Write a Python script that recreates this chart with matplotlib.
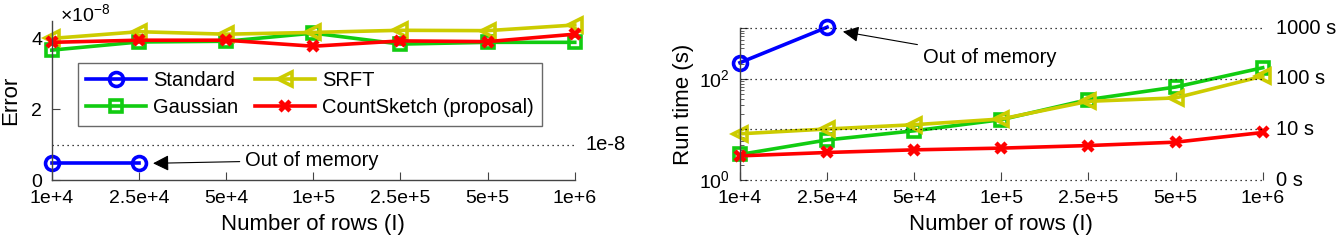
import matplotlib
matplotlib.use("Agg")
import matplotlib.pyplot as plt
import numpy as np

plt.rcParams['font.family'] = ['Liberation Sans', 'DejaVu Sans']
plt.rcParams['mathtext.fontset'] = 'custom'
plt.rcParams['mathtext.rm'] = 'Liberation Sans'

rows = ['1e+4', '2.5e+4', '5e+4', '1e+5', '2.5e+5', '5e+5', '1e+6']

# error values (x 1e-8)
err_standard = [0.47, 0.47]
err_gaussian = [3.67, 3.9, 3.92, 4.15, 3.84, 3.89, 3.89]
err_srft = [4.0, 4.19, 4.12, 4.17, 4.23, 4.22, 4.38]
err_cs = [3.89, 3.95, 3.95, 3.78, 3.93, 3.91, 4.12]

# run time (s)
time_standard = [209, 1050]
time_gaussian = [3.2, 6.2, 9.4, 15.6, 39, 69, 166]
time_srft = [8.2, 10.2, 12.4, 16.1, 36, 42, 113]
time_cs = [3.0, 3.5, 3.95, 4.27, 4.8, 5.6, 8.7]

c_blue = '#0000ff'
c_green = '#11cc11'
c_yel = '#cccc00'
c_red = '#ff0000'
fs = 14
fs_txt = 14.5
fs_lab = 16
lw = 2.6

fig = plt.figure(figsize=(13.41, 2.52), dpi=100)
ax1 = fig.add_axes([0.0386, 0.2857, 0.390, 0.632])
ax2 = fig.add_axes([0.5518, 0.2857, 0.3898, 0.602])

x = np.arange(len(rows))


def style(ax):
    for s in ['top', 'right']:
        ax.spines[s].set_visible(False)
    for s in ['left', 'bottom']:
        ax.spines[s].set_color('#444444')
        ax.spines[s].set_linewidth(1.0)
    ax.tick_params(direction='in', length=6, labelsize=fs, color='#444444', pad=7)
    ax.set_xticks(x)
    ax.set_xticklabels(rows)
    ax.set_xlim(0, 6)
    ax.set_xlabel('Number of rows (I)', fontsize=fs_lab, labelpad=5)


# left panel
style(ax1)
h1, = ax1.plot(x[:2], err_standard, color=c_blue, lw=lw, marker='o', ms=10, mfc='none', mew=2.6, clip_on=False)
h2, = ax1.plot(x, err_gaussian, color=c_green, lw=lw, marker='s', ms=9, mfc='none', mew=2.6, clip_on=False)
h3, = ax1.plot(x, err_srft, color=c_yel, lw=lw, marker='<', ms=10, mfc='none', mew=2.6, clip_on=False)
h4, = ax1.plot(x, err_cs, color=c_red, lw=lw, marker='x', ms=7, mew=3.2, clip_on=False)
ax1.axhline(1, color='k', lw=0.9, ls=(0, (1, 3)))
ax1.set_ylim(0, 4.5)
ax1.set_yticks([0, 2, 4])
ax1.set_ylabel('Error', fontsize=fs_lab)
ax1.yaxis.set_label_coords(-0.058, 0.5)
ax1.text(0.015, 1.035, r'$\times10^{-8}$', transform=ax1.transAxes, fontsize=fs, va='center')
ax1.text(1.02, 1, '1e-8', transform=ax1.get_yaxis_transform(), fontsize=fs_txt, va='center')
ax1.annotate('Out of memory', xy=(1.13, 0.47), xytext=(2.22, 0.56), fontsize=fs_txt, va='center',
             arrowprops=dict(arrowstyle='-|>', color='k', lw=0.8, mutation_scale=24))
leg = ax1.legend([h1, h2, h3, h4], ['Standard', 'Gaussian', 'SRFT', 'CountSketch (proposal)'],
                 ncol=2, loc='upper left', bbox_to_anchor=(0.05, 0.735), borderaxespad=0,
                 fontsize=fs_txt, frameon=True, fancybox=False, edgecolor='#444444',
                 handlelength=3.0, handletextpad=0.35, columnspacing=0.8,
                 borderpad=0.4, labelspacing=0.42)
leg.get_frame().set_linewidth(1.0)

# right panel
style(ax2)
ax2.set_yscale('log')
ax2.plot(x[:2], time_standard, color=c_blue, lw=lw, marker='o', ms=10, mfc='none', mew=2.6, clip_on=False)
ax2.plot(x, time_gaussian, color=c_green, lw=lw, marker='s', ms=9, mfc='none', mew=2.6, clip_on=False)
ax2.plot(x, time_srft, color=c_yel, lw=lw, marker='<', ms=10, mfc='none', mew=2.6, clip_on=False)
ax2.plot(x, time_cs, color=c_red, lw=lw, marker='x', ms=7, mew=3.2, clip_on=False)
ax2.set_ylim(1, 1000)
ax2.set_yticks([1, 10, 100, 1000])
ax2.set_yticklabels([r'$10^0$', '', r'$10^2$', ''])
ax2.tick_params(axis='y', which='minor', direction='in', length=3, color='#444444')
ax2.set_ylabel('Run time (s)', fontsize=fs_lab, labelpad=4)
ax2.spines['bottom'].set_visible(False)
for v, lab in zip([1000, 100, 10, 1], ['1000 s', '100 s', '10 s', '0 s']):
    ax2.axhline(v, color='k', lw=0.9, ls=(0, (1, 3)), clip_on=False)
    ax2.text(1.025, v, lab, transform=ax2.get_yaxis_transform(), fontsize=fs_txt, va='center')
ax2.annotate('Out of memory', xy=(1.15, 880), xytext=(2.1, 268), fontsize=fs_txt, va='center',
             arrowprops=dict(arrowstyle='-|>', color='k', lw=0.8, mutation_scale=24))

fig.savefig('out.png', dpi=100)
